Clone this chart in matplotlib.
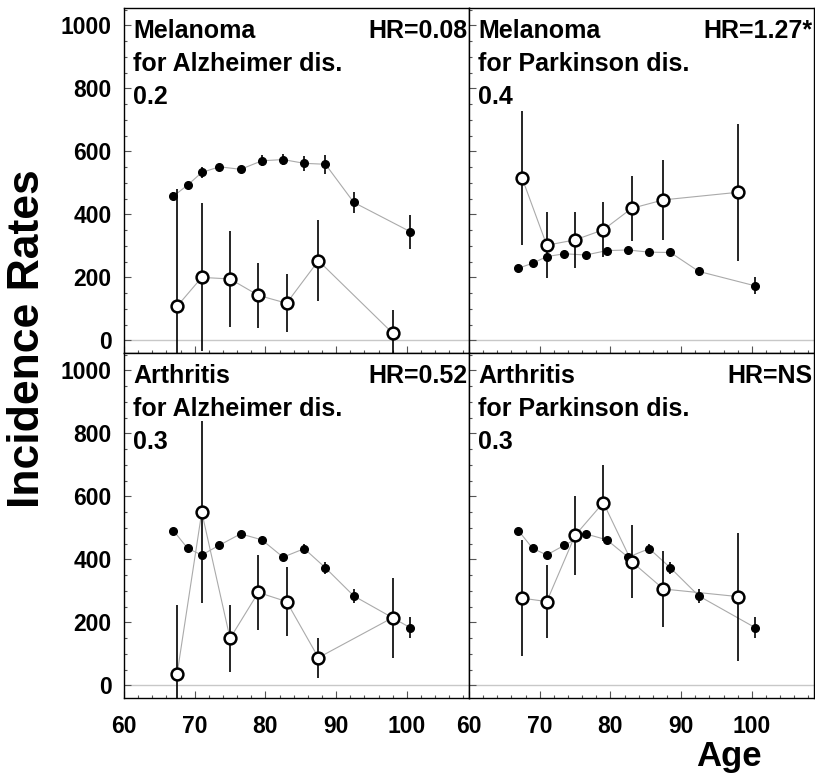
import matplotlib
matplotlib.use("Agg")
from matplotlib import pyplot as plt
from matplotlib.ticker import MultipleLocator

plt.rcParams['font.family'] = ['Liberation Sans', 'DejaVu Sans']
plt.rcParams['font.weight'] = 'bold'

# ages of the reference (filled) and observed (open) points
ages_ref = [67.0, 69.0, 71.0, 73.5, 76.5, 79.5, 82.5, 85.5, 88.5, 92.5, 100.5]
ages_obs = [67.5, 71.0, 75.0, 79.0, 83.0, 87.5, 98.0]

# Melanoma for Alzheimer dis.
mel_alz_ref = [458, 493, 533, 551, 543, 570, 574, 562, 559, 438, 345]
mel_alz_ref_err = [12, 10, 18, 10, 10, 18, 17, 24, 30, 33, 54]
mel_alz_obs = [108, 200, 195, 143, 118, 253, 23]
mel_alz_obs_err = [371, 235, 151, 103, 92, 128, 74]

# Melanoma for Parkinson dis.
mel_park_ref = [229, 245, 266, 275, 271, 285, 287, 280, 279, 219, 173]
mel_park_ref_err = [8, 8, 8, 8, 8, 8, 8, 8, 8, 15, 27]
mel_park_obs = [516, 302, 319, 351, 419, 446, 470]
mel_park_obs_err = [212, 105, 89, 87, 102, 126, 218]

# Arthritis (same reference curve in both panels)
arth_ref = [491, 435, 414, 445, 481, 462, 407, 434, 373, 284, 183]
arth_ref_err = [8, 8, 8, 8, 8, 8, 10, 14, 18, 21, 33]
arth_alz_obs = [35, 550, 149, 295, 266, 88, 215]
arth_alz_obs_err = [220, 288, 107, 118, 109, 63, 127]
arth_park_obs = [277, 266, 476, 580, 393, 306, 282]
arth_park_obs_err = [185, 115, 126, 121, 117, 122, 203]

panels = [
    ("Melanoma", "for Alzheimer dis.", "0.2", "HR=0.08",
     mel_alz_ref, mel_alz_ref_err, mel_alz_obs, mel_alz_obs_err),
    ("Melanoma", "for Parkinson dis.", "0.4", "HR=1.27*",
     mel_park_ref, mel_park_ref_err, mel_park_obs, mel_park_obs_err),
    ("Arthritis", "for Alzheimer dis.", "0.3", "HR=0.52",
     arth_ref, arth_ref_err, arth_alz_obs, arth_alz_obs_err),
    ("Arthritis", "for Parkinson dis.", "0.3", "HR=NS",
     arth_ref, arth_ref_err, arth_park_obs, arth_park_obs_err),
]

W, H = 815, 775
fig = plt.figure(figsize=(W / 100, H / 100), dpi=100)

lefts = [124, 469]
tops = [8, 353]
pw, ph = 345, 345

for i, (t1, t2, t3, hr, ref, ref_err, obs, obs_err) in enumerate(panels):
    row, col = divmod(i, 2)
    x0 = lefts[col]
    y0 = tops[row]
    ax = fig.add_axes([x0 / W, 1 - (y0 + ph) / H, pw / W, ph / H])
    ax.set_xlim(60, 108.8)
    ax.set_ylim(-40, 1055)

    ax.axhline(0, color='#c8c8c8', lw=1.0, zorder=0)

    ax.plot(ages_ref, ref, color='#aaaaaa', lw=0.8, zorder=1)
    ax.plot(ages_obs, obs, color='#aaaaaa', lw=0.8, zorder=1)
    ax.errorbar(ages_ref, ref, yerr=ref_err, fmt='o', color='black',
                ms=5.5, elinewidth=1.2, capsize=0, zorder=3)
    ax.errorbar(ages_obs, obs, yerr=obs_err, fmt='o', color='black',
                mfc='white', mec='black', mew=1.8, ms=8.5,
                elinewidth=1.2, capsize=0, zorder=4)

    fs = 18
    ax.text(0.026, 0.913, t1, transform=ax.transAxes, fontsize=fs,
            fontweight='bold', va='baseline', ha='left')
    ax.text(0.026, 0.817, t2, transform=ax.transAxes, fontsize=fs,
            fontweight='bold', va='baseline', ha='left')
    ax.text(0.026, 0.722, t3, transform=ax.transAxes, fontsize=fs,
            fontweight='bold', va='baseline', ha='left')
    ax.text(0.996, 0.913, hr, transform=ax.transAxes, fontsize=fs,
            fontweight='bold', va='baseline', ha='right')

    ax.xaxis.set_major_locator(MultipleLocator(10))
    ax.xaxis.set_minor_locator(MultipleLocator(2))
    ax.yaxis.set_major_locator(MultipleLocator(200))
    ax.yaxis.set_minor_locator(MultipleLocator(50))
    ax.set_xticks([60, 70, 80, 90, 100])
    ax.tick_params(which='both', direction='in', top=False, right=False,
                   color='#555555', width=0.8)
    ax.tick_params(which='major', length=5, labelsize=16.5)
    ax.tick_params(which='minor', length=2.5)
    ax.tick_params(axis='y', pad=9)
    ax.tick_params(axis='x', pad=12)
    for lab in ax.get_xticklabels() + ax.get_yticklabels():
        lab.set_fontweight('bold')
    if row == 0:
        ax.tick_params(axis='x', labelbottom=False)
    if col == 1:
        ax.tick_params(axis='y', labelleft=False)
    for s in ax.spines.values():
        s.set_linewidth(1.0)

fig.text(28 / W, 1 - 339 / H, "Incidence Rates", rotation=90, fontsize=32,
         fontweight='bold', ha='center', va='center')
fig.text(762 / W, 1 - 766 / H, "Age", fontsize=25, fontweight='bold',
         ha='right', va='baseline')

fig.savefig("out.png", dpi=100)
